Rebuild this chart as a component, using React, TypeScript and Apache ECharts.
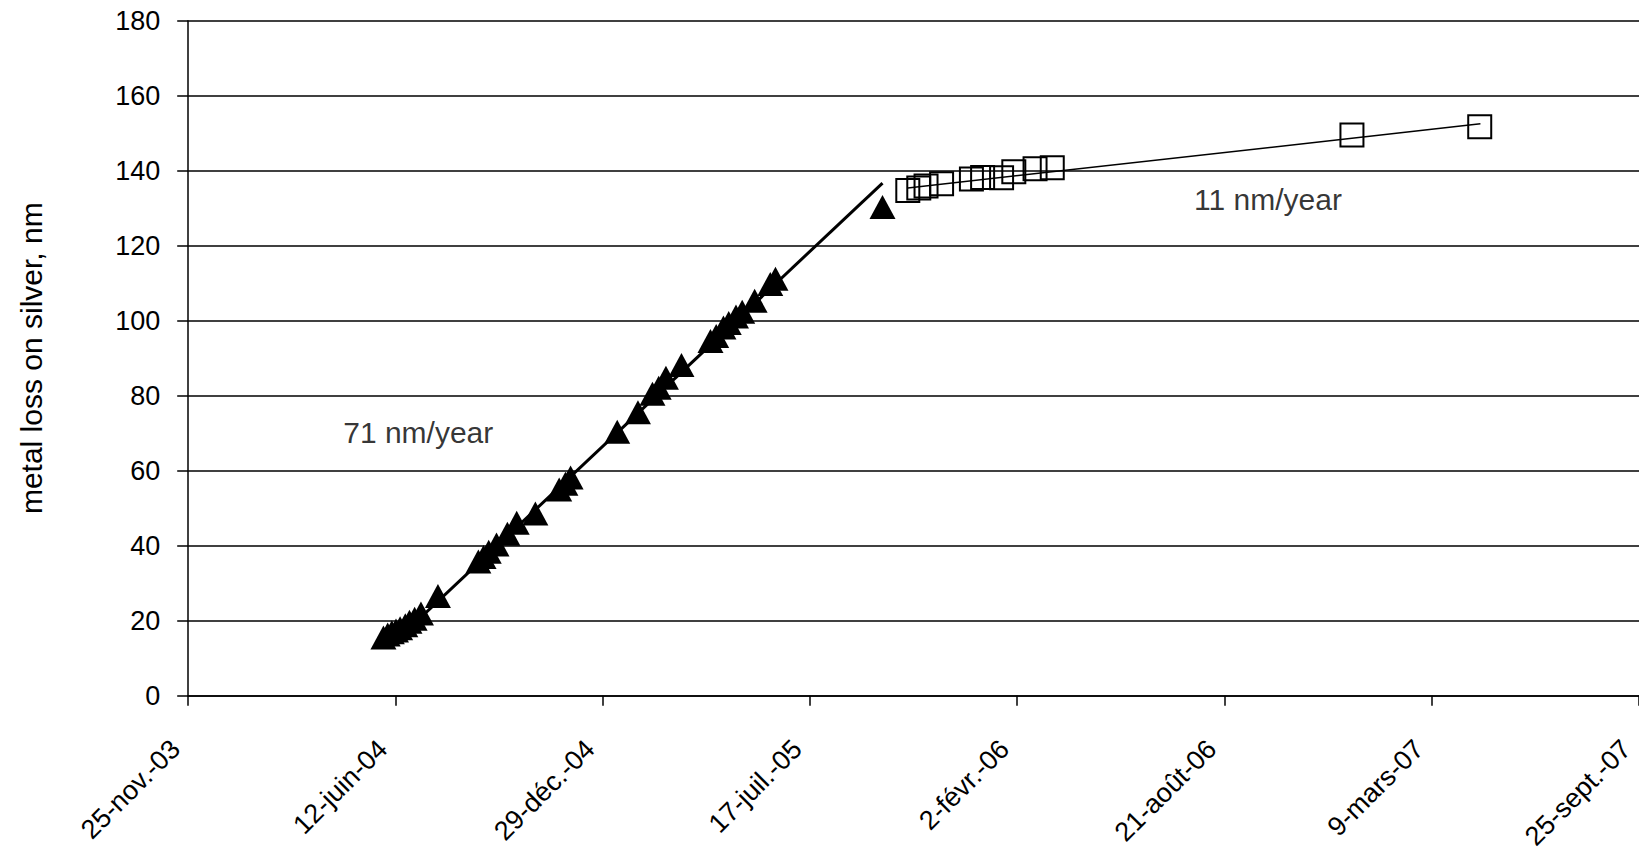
import React, { useEffect, useRef } from "react";
import * as echarts from "echarts";

// x values are days since 25 Nov 2003
const xTickLabels = [
  "25-nov.-03",
  "12-juin-04",
  "29-déc.-04",
  "17-juil.-05",
  "2-févr.-06",
  "21-août-06",
  "9-mars-07",
  "25-sept.-07",
];
const xTickStepDays = 200;
const xMaxDays = 1400;
const yMin = 0;
const yMax = 180;
const yStep = 20;

const triangleDays = [
  188.4, 192.5, 196.5, 200.5, 204.5, 209.5, 213.5, 218.5, 224.6, 241,
  280, 285, 290, 297.5, 308, 317, 335,
  358, 364, 369,
  414, 434, 448, 454, 461, 476,
  504, 509.5, 516.5, 521.6, 528.6, 534.6, 546.6, 561.7, 566.7,
  670,
];
const triangleValues = [
  15.5, 16.3, 16.9, 17.4, 18.0, 18.8, 19.7, 20.5, 21.9, 26.6,
  35.8, 37.0, 38.4, 40.3, 43.2, 46.1, 48.6,
  55.0, 56.5, 58.2,
  70.4, 75.6, 80.5, 82.1, 84.8, 88.2,
  94.6, 95.9, 98.2, 99.4, 101.1, 102.4, 105.3, 109.8, 111.2,
  130.3,
];

const squareDays = [694.4, 705, 712, 727, 755.8, 766.6, 784.9, 796.7, 817.2, 833.8, 1123, 1246.3];
const squareValues = [134.7, 135.4, 135.9, 136.5, 137.8, 138.2, 138.1, 139.7, 140.5, 140.8, 149.5, 151.7];

const triangleTrendDays = [195, 670];
const triangleTrendValues = [13.2, 136.7];
const squareTrendDays = [694.4, 1247];
const squareTrendValues = [135.4, 152.5];

const annotationTexts = ["71 nm/year", "11 nm/year"];
const annotationDays = [222, 1042];
const annotationValues = [70.3, 132.2];

const yAxisTitle = "metal loss on silver, nm";

const FONT = "'Liberation Sans', Arial, Helvetica, sans-serif";

const zip = (xs: number[], ys: number[]) => xs.map((x, i) => [x, ys[i]]);

export default function App() {
  const ref = useRef<HTMLDivElement>(null);

  useEffect(() => {
    if (!ref.current) return;
    const chart = echarts.init(ref.current, undefined, { renderer: "svg" });
    const option: any = {
      animation: false,
      backgroundColor: "#ffffff",
      grid: { left: 188.2, right: -9, top: 20.7, bottom: 160.3, containLabel: false },
      xAxis: {
        type: "value",
        min: 0,
        max: xMaxDays,
        interval: xTickStepDays,
        splitLine: { show: false },
        axisLine: { show: true, onZero: false, lineStyle: { color: "#000", width: 1.5 } },
        axisTick: { show: true, length: 10, lineStyle: { color: "#000", width: 1.5 } },
        axisLabel: {
          rotate: 45,
          margin: 36,
          padding: [0, 18, 0, 0],
          color: "#000",
          fontFamily: FONT,
          fontSize: 27,
          showMinLabel: true,
          showMaxLabel: true,
          formatter: (v: number) => xTickLabels[Math.round(v / xTickStepDays)] ?? "",
        },
      },
      yAxis: {
        type: "value",
        min: yMin,
        max: yMax,
        interval: yStep,
        name: yAxisTitle,
        nameLocation: "middle",
        nameGap: 142,
        nameTextStyle: { color: "#000", fontFamily: FONT, fontSize: 30 },
        axisLine: { show: true, lineStyle: { color: "#000", width: 1.5 } },
        axisTick: { show: true, length: 11, lineStyle: { color: "#000", width: 1.5 } },
        axisLabel: { margin: 28, color: "#000", fontFamily: FONT, fontSize: 27 },
        splitLine: { show: true, lineStyle: { color: "#000", width: 1.5 } },
      },
      series: [
        {
          name: "triangles",
          type: "scatter",
          data: zip(triangleDays, triangleValues),
          symbol: "triangle",
          symbolSize: [26, 24],
          itemStyle: { color: "#000", opacity: 1 },
          z: 2,
        },
        {
          name: "triangle trend",
          type: "line",
          data: zip(triangleTrendDays, triangleTrendValues),
          symbol: "none",
          lineStyle: { color: "#000", width: 3 },
          z: 3,
        },
        {
          name: "squares",
          type: "scatter",
          data: zip(squareDays, squareValues),
          symbol: "rect",
          symbolSize: 23,
          itemStyle: { color: "rgba(0,0,0,0)", borderColor: "#000", borderWidth: 2, opacity: 1 },
          z: 2,
        },
        {
          name: "square trend",
          type: "line",
          data: zip(squareTrendDays, squareTrendValues),
          symbol: "none",
          lineStyle: { color: "#000", width: 1.5 },
          z: 3,
        },
        {
          name: "annotations",
          type: "scatter",
          silent: true,
          symbolSize: 1,
          itemStyle: { color: "rgba(0,0,0,0)" },
          data: annotationTexts.map((t, i) => ({ name: t, value: [annotationDays[i], annotationValues[i]] })),
          label: {
            show: true,
            position: "inside",
            formatter: "{b}",
            color: "#000",
            fontFamily: FONT,
            fontSize: 30,
          },
          z: 4,
        },
      ],
    };
    chart.setOption(option);
    return () => chart.dispose();
  }, []);

  return (
    <div
      ref={ref}
      style={{ position: "fixed", left: 0, top: 0, width: 1639, height: 856, background: "#fff" }}
    />
  );
}
